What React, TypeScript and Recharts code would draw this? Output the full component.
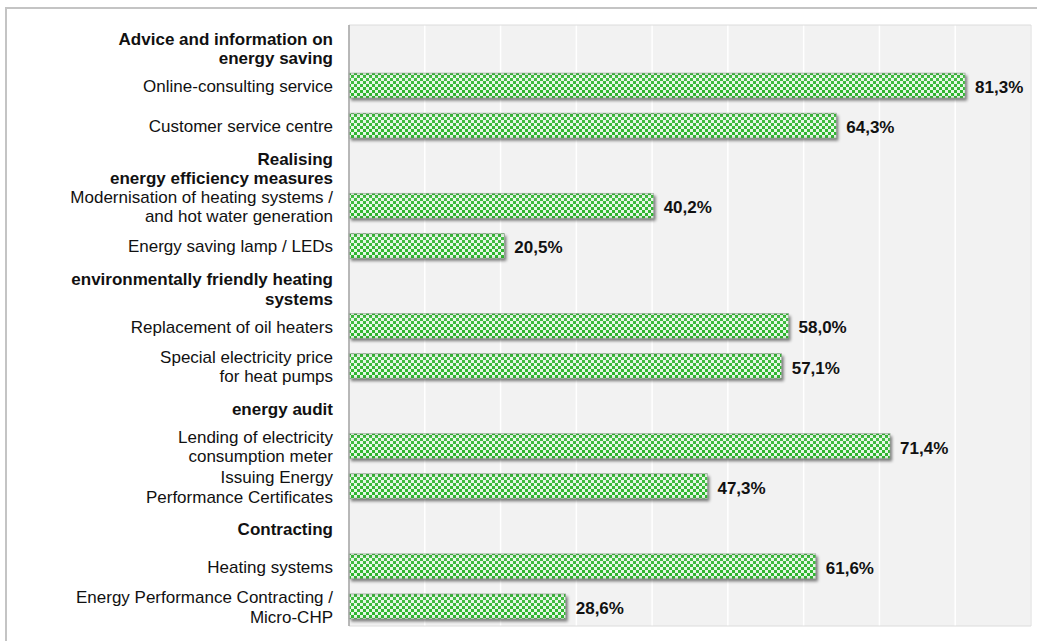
import { BarChart, Bar, XAxis, YAxis, CartesianGrid, LabelList, ReferenceArea } from 'recharts'

// rows from top to bottom; group headers have no value
const labels = [
  'Advice and information on\nenergy saving',
  'Online-consulting service',
  'Customer service centre',
  'Realising\nenergy efficiency measures',
  'Modernisation of heating systems /\nand hot water generation',
  'Energy saving lamp / LEDs',
  'environmentally friendly heating\nsystems',
  'Replacement of oil heaters',
  'Special electricity price\nfor heat pumps',
  'energy audit',
  'Lending of electricity\nconsumption meter',
  'Issuing Energy\nPerformance Certificates',
  'Contracting',
  'Heating systems',
  'Energy Performance Contracting /\nMicro-CHP',
]

const headers = [true, false, false, true, false, false, true, false, false, true, false, false, true, false, false]

const values: (number | null)[] = [null, 81.3, 64.3, null, 40.2, 20.5, null, 58.0, 57.1, null, 71.4, 47.3, null, 61.6, 28.6]

const xTicks = [0, 10, 20, 30, 40, 50, 60, 70, 80, 90]

const data = labels.map((label, i) => ({ label, value: values[i], header: headers[i] }))

const FONT = '"Liberation Sans", Arial, sans-serif'

function RowTick(props: any) {
  const { x, y, payload, index } = props
  const lines = String(payload.value).split('\n')
  const lh = 19.5
  const bold = headers[index]
  const start = -((lines.length - 1) * lh) / 2 + (bold ? 4 : 1.5)
  return (
    <text
      x={x}
      y={y}
      textAnchor="end"
      fontFamily={FONT}
      fontSize={17}
      fontWeight={bold ? 'bold' : 'normal'}
      fill="#111"
    >
      {lines.map((l, i) => (
        <tspan key={i} x={x} dy={i === 0 ? start : lh} dominantBaseline="central">
          {l}
        </tspan>
      ))}
    </text>
  )
}

function CheckerBar(props: any) {
  const { x, y, width, height } = props
  if (!width || width <= 0) return null
  return (
    <g>
      <rect x={x + 2} y={y + 2.5} width={width} height={height} fill="#000" opacity={0.5} filter="url(#barShadow)" />
      <rect x={x} y={y} width={width} height={height} fill="url(#checker)" />
      <rect x={x} y={y} width={width} height={height} fill="url(#barShade)" stroke="#9aa89a" strokeWidth={0.6} />
    </g>
  )
}

function ValueLabel(props: any) {
  const { x, y, width, height, value } = props
  if (value == null) return null
  return (
    <text
      x={x + width + 10}
      y={y + height / 2 + 2}
      dominantBaseline="central"
      fontFamily={FONT}
      fontSize={17}
      fontWeight="bold"
      fill="#111"
    >
      {Number(value).toFixed(1).replace('.', ',') + '%'}
    </text>
  )
}

export default function App() {
  return (
    <div style={{ position: 'absolute', left: 0, top: 0, width: 1037, height: 641, background: '#fff', overflow: 'hidden' }}>
      <div
        style={{
          position: 'absolute',
          left: 5,
          top: 7,
          width: 1100,
          height: 700,
          border: '2px solid #c4c4c4',
        }}
      />
      <div style={{ position: 'absolute', left: 0, top: 0 }}>
        <BarChart
          width={1037}
          height={641}
          data={data}
          layout="vertical"
          margin={{ top: 25, right: 6, bottom: 15, left: 0 }}
          barCategoryGap={0}
        >
          <defs>
            <pattern id="checker" width="6" height="6" patternUnits="userSpaceOnUse">
              <rect x="0" y="0" width="6" height="6" fill="#ffffff" />
              <rect x="0" y="0" width="3" height="3" fill="#2db52d" />
              <rect x="3" y="3" width="3" height="3" fill="#2db52d" />
              <rect x="3" y="0" width="3" height="3" fill="#c8ecc8" opacity={0.45} />
              <rect x="0" y="3" width="3" height="3" fill="#c8ecc8" opacity={0.45} />
            </pattern>
            <linearGradient id="barShade" x1="0" y1="0" x2="0" y2="1">
              <stop offset="0%" stopColor="#000" stopOpacity={0.1} />
              <stop offset="15%" stopColor="#fff" stopOpacity={0.12} />
              <stop offset="85%" stopColor="#fff" stopOpacity={0} />
              <stop offset="100%" stopColor="#000" stopOpacity={0.15} />
            </linearGradient>
            <filter id="barShadow" x="-5%" y="-50%" width="110%" height="200%">
              <feGaussianBlur stdDeviation="1.4" />
            </filter>
          </defs>
          <CartesianGrid horizontal={false} fill="#f2f2f2" stroke="#ffffff" strokeWidth={1.5} />
          <ReferenceArea x1={0} x2={90} fill="none" stroke="#dcdcdc" strokeWidth={1} ifOverflow="visible" />
          <XAxis type="number" domain={[0, 90]} ticks={xTicks} hide />
          <YAxis
            type="category"
            dataKey="label"
            width={349}
            interval={0}
            tickSize={0}
            tickMargin={16}
            tickLine={false}
            axisLine={{ stroke: '#a6a6a6', strokeWidth: 1.5 }}
            tick={<RowTick />}
          />
          <Bar dataKey="value" barSize={25} shape={<CheckerBar />} isAnimationActive={false}>
            <LabelList dataKey="value" content={<ValueLabel />} />
          </Bar>
        </BarChart>
      </div>
    </div>
  )
}
